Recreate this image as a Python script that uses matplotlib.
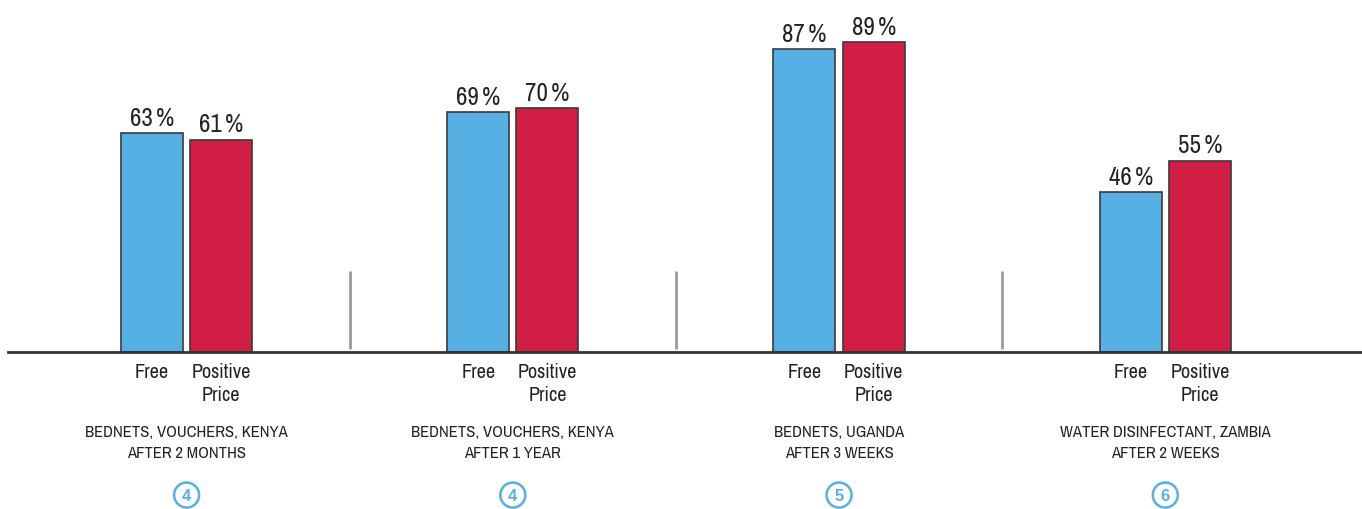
import matplotlib.pyplot as plt
from matplotlib import font_manager

# Data
groups = ['BEDNETS, VOUCHERS, KENYA\nAFTER 2 MONTHS',
          'BEDNETS, VOUCHERS, KENYA\nAFTER 1 YEAR',
          'BEDNETS, UGANDA\nAFTER 3 WEEKS',
          'WATER DISINFECTANT, ZAMBIA\nAFTER 2 WEEKS']
free_vals = [63, 69, 87, 46]
price_vals = [61, 70, 89, 55]
bar_labels = ['Free', 'Positive\nPrice']
refs = ['4', '4', '5', '6']

# condensed font if there is one, else Arial-like
names = sorted({f.name for f in font_manager.fontManager.ttflist})
narrow = [n for n in names if 'Condensed' in n or 'Narrow' in n]
fam = narrow[0] if narrow else 'Liberation Sans'
plt.rcParams['font.family'] = [fam, 'DejaVu Sans']

BLUE = '#56b0e3'
RED = '#d01e45'
TXT = '#222222'

fig = plt.figure(figsize=(13.62, 5.10), dpi=100)
ax = fig.add_axes([0, (510 - 353) / 510, 1, 353 / 510])
ax.set_xlim(-0.572, 3.603)
ax.set_ylim(0, 101.4)
ax.axis('off')

w = 0.19
off = 0.106
for i in range(len(groups)):
    ax.bar(i - off, free_vals[i], w, color=BLUE, edgecolor='#3a3a3a', linewidth=1.2)
    ax.bar(i + off, price_vals[i], w, color=RED, edgecolor='#3a3a3a', linewidth=1.2)
    ax.text(i - off, free_vals[i] + 1.2, f'{free_vals[i]}\u2009%', ha='center', va='bottom',
            fontsize=18, color=TXT)
    ax.text(i + off, price_vals[i] + 1.2, f'{price_vals[i]}\u2009%', ha='center', va='bottom',
            fontsize=18, color=TXT)
    # labels under the baseline
    ax.annotate(bar_labels[0], (i - off, 0), xytext=(0, -7), textcoords='offset points',
                ha='center', va='top', fontsize=14.5, color=TXT, annotation_clip=False)
    ax.annotate(bar_labels[1], (i + off, 0), xytext=(0, -7), textcoords='offset points',
                ha='center', va='top', fontsize=14.5, color=TXT, linespacing=1.3,
                annotation_clip=False)
    ax.annotate(groups[i], (i, 0), xytext=(0, -52), textcoords='offset points',
                ha='center', va='top', fontsize=12, color=TXT, linespacing=1.5,
                annotation_clip=False)
    # circled source number
    ax.annotate(refs[i], (i, 0), xytext=(0, -103), textcoords='offset points',
                ha='center', va='center', fontsize=12, color=BLUE, fontweight='bold',
                family=['Liberation Sans', 'DejaVu Sans'], annotation_clip=False,
                bbox=dict(boxstyle='circle,pad=0.3', fc='white', ec=BLUE, lw=1.8))

# dividers between groups
for i in range(len(groups) - 1):
    ax.plot([i + 0.5, i + 0.5], [1, 23.3], color='#9a9a9a', lw=2, solid_capstyle='butt')

ax.plot([-0.547, 3.603], [0, 0], color='#333333', lw=2, clip_on=False)

fig.savefig('out.png', dpi=100)
